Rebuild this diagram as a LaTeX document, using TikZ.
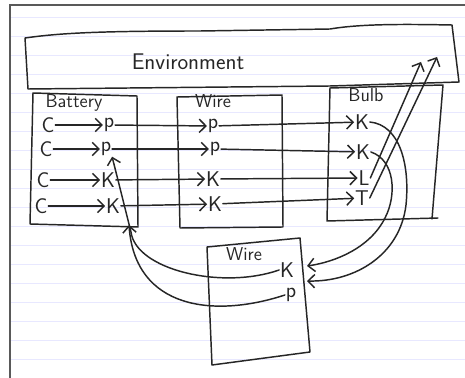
\documentclass[tikz,border=0pt]{standalone}
\usetikzlibrary{arrows.meta}
\begin{document}
\begin{tikzpicture}[x=0.75pt,y=-0.75pt,
  ink/.style={line width=1.1pt, draw=black!85, line join=round, line cap=round},
  arr/.style={ink, -{Straight Barb[length=5pt,width=10pt,line width=1.1pt]}},
  lbl/.style={font=\sffamily\fontsize{14}{16}\selectfont, text=black!85, inner sep=0.5pt},
  envlbl/.style={font=\sffamily\fontsize{17}{20}\selectfont, text=black!85, inner sep=1pt},
  let/.style={font=\sffamily\fontsize{16}{18}\selectfont, text=black!85, inner sep=0.5pt},
  ruled/.style={draw=blue!9, line width=0.5pt},
  frame/.style={draw=black!65, line width=1pt}]
\useasboundingbox (0,0) rectangle (465,378);
\fill[white] (0,0) rectangle (465,378);
% notebook rules
\foreach \yy in {17,36,...,378} \draw[ruled] (10,\yy) -- (465,\yy);
% frame
\draw[frame] (10,378) -- (10,5) -- (465,5);
% Environment
\draw[ink] (25,38) .. controls (60,33) and (100,31) .. (200,31) -- (330,29)
  .. controls (360,24) and (400,24) .. (452,25) -- (459,82) -- (330,86) -- (28,89) -- cycle;
\node[envlbl] (env) at (188,62) {Environment};
% Battery
\draw[ink] (33,93) -- (137,96) -- (138,227) -- (30,224) -- cycle;
\node[lbl] (batt) at (74,103) {Battery};
% Wire top
\draw[ink] (177,97) -- (282,95) -- (283,227) -- (180,228) -- cycle;
\node[lbl] (wire1) at (213,101) {Wire};
% Bulb
\draw[ink] (330,88) -- (443,85) -- (432,219);
\draw[ink] (330,88) -- (327,221) -- (438,218);
\node[lbl] (bulb) at (366,95) {Bulb};
% Wire bottom
\draw[ink] (207,247) -- (300,238) -- (310,352) -- (212,365) -- cycle;
\node[lbl] (wire2) at (244,254) {Wire};
% battery rows
\node[let] (bc1) at (48,125) {C};
\node[let] (bp1) at (109,125) {p};
\node[let] (bc2) at (46,149) {C};
\node[let] (bp2) at (106,149) {p};
\node[let] (bc3) at (43,180) {C};
\node[let] (bk3) at (108,180) {K};
\node[let] (bc4) at (41,206) {C};
\node[let] (bk4) at (113,206) {K};
% wire rows
\node[let] (wp1) at (213,126) {p};
\node[let] (wp2) at (215,149) {p};
\node[let] (wk3) at (213,179) {K};
\node[let] (wk4) at (215,204) {K};
% bulb rows
\node[let] (uk1) at (362,122) {K};
\node[let] (uk2) at (363,152) {K};
\node[let] (ul3) at (364,178) {L};
\node[let] (ut4) at (362,198) {T};
% bottom wire
\node[let] (wk) at (287,270) {K};
\node[let] (wq) at (291,295) {p};
% row arrows
\draw[arr] (bc1) -- (bp1);
\draw[arr] (bc2) -- (bp2);
\draw[arr] (bc3) -- (bk3);
\draw[arr] (bc4) -- (bk4);
\draw[arr] (bp1) -- (wp1);
\draw[arr] (bp2) -- (wp2);
\draw[arr] (bk3) -- (wk3);
\draw[arr] (bk4) -- (wk4);
\draw[arr] (wp1) -- (uk1);
\draw[arr] (wp2) -- (uk2);
\draw[arr] (wk3) -- (ul3);
\draw[arr] (wk4) -- (ut4);
% bulb to bottom wire
\coordinate (tipK) at (307,266);
\coordinate (tipP) at (307,281);
\draw[arr] (uk2.east) .. controls (395,160) and (397,195) .. (385,218)
  .. controls (370,248) and (335,262) .. (tipK);
\draw[arr] (uk1.east) .. controls (400,125) and (410,165) .. (406,205)
  .. controls (400,255) and (355,282) .. (tipP);
% bulb to environment
\coordinate (envL) at (421,62);
\coordinate (envT) at (437,57);
\draw[arr] (ul3.east) -- (envL);
\draw[arr] (ut4.east) -- (envT);
% bottom wire to battery
\coordinate (mB) at (129,225);
\draw[arr] (wk.west) .. controls (222,290) and (136,270) .. (131,232) -- (bp2.south east);
\draw[arr] (wq.west) .. controls (215,318) and (135,310) .. (mB);
\end{tikzpicture}
\end{document}
